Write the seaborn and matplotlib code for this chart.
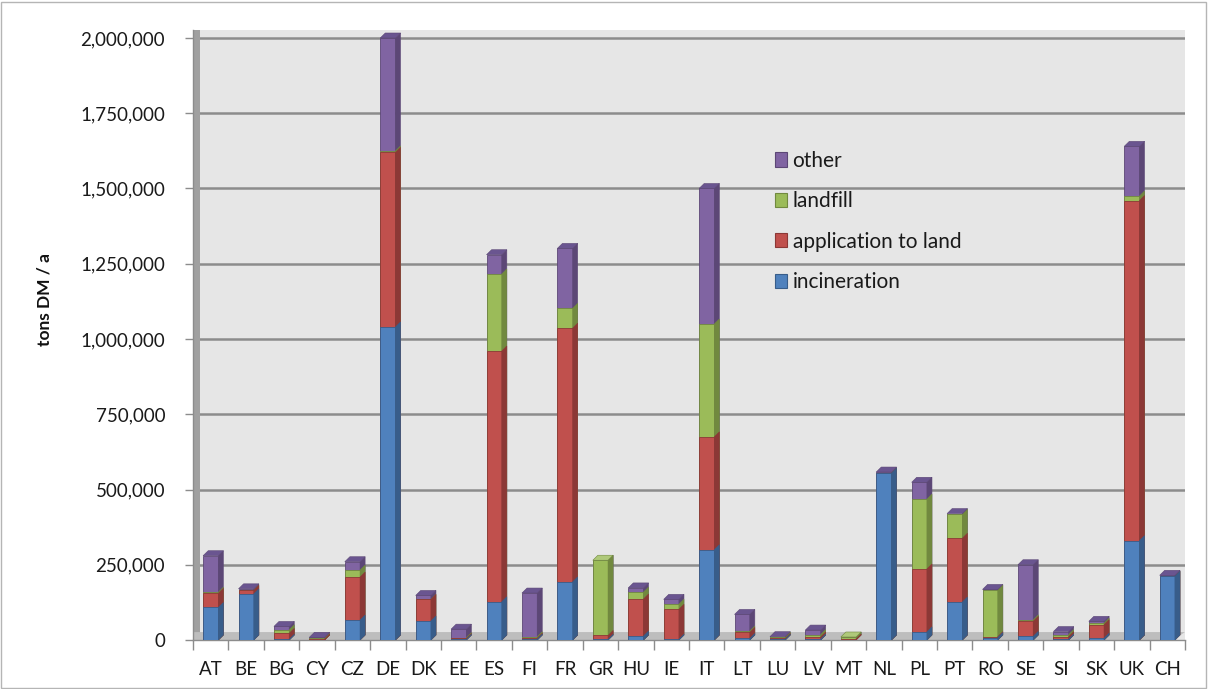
import matplotlib
matplotlib.use("Agg")
import numpy as np
import matplotlib.pyplot as plt
from matplotlib.patches import Polygon, Rectangle, Patch
from matplotlib.ticker import FuncFormatter, FixedLocator
import seaborn as sns

# Sewage sludge disposal routes per country (tons dry matter per year)
countries = ["AT", "BE", "BG", "CY", "CZ", "DE", "DK", "EE", "ES", "FI", "FR", "GR",
             "HU", "IE", "IT", "LT", "LU", "LV", "MT", "NL", "PL", "PT", "RO", "SE",
             "SI", "SK", "UK", "CH"]
incineration = [108000, 153000, 2000, 0, 66000, 1040000, 63000, 2000, 127000, 3000,
                193000, 2000, 13000, 2000, 300000, 5000, 2000, 3000, 0, 555000,
                27000, 126000, 8000, 12000, 3000, 6000, 330000, 212000]
application_to_land = [47000, 12000, 20000, 3000, 143000, 580000, 72000, 3000, 833000, 3000,
                       843000, 13000, 123000, 100000, 375000, 20000, 3000, 7000, 3000, 0,
                       209000, 212000, 3000, 50000, 8000, 45000, 1130000, 0]
landfill = [4000, 0, 12000, 2000, 23000, 5000, 0, 3000, 256000, 5000,
            66000, 250000, 23000, 17000, 375000, 5000, 5000, 8000, 7000, 0,
            232000, 80000, 155000, 5000, 7000, 5000, 15000, 0]
other = [121000, 5000, 11000, 4000, 28000, 375000, 13000, 28000, 64000, 145000,
         199000, 0, 14000, 16000, 450000, 55000, 1000, 15000, 0, 3000,
         56000, 2000, 2000, 183000, 10000, 6000, 165000, 3000]

series_names = ["incineration", "application to land", "landfill", "other"]
front_colors = ["#4F81BD", "#C0504D", "#9BBB59", "#8064A2"]
side_colors = ["#385D8A", "#8C3836", "#71893F", "#5C4776"]
top_colors = ["#6F97C8", "#CD6F6C", "#AFC97A", "#6A5590"]

W, H = 1208, 689
fig = plt.figure(figsize=(W / 100, H / 100), dpi=100)
fig.patch.set_facecolor("white")

sns.set_style("white")
plt.rcParams["font.family"] = ["Lato", "DejaVu Sans"]

ax_left, ax_right, ax_bottom, ax_top = 193, 1185, 640, 30
ax = fig.add_axes([ax_left / W, 1 - ax_bottom / H,
                   (ax_right - ax_left) / W, (ax_bottom - ax_top) / H])
ax.set_facecolor("#E6E6E6")

ymax = 2_000_000 * (ax_bottom - ax_top) / (ax_bottom - 38)
ax.set_ylim(0, ymax)
ax.set_xlim(-0.5, 27.87)

px_per_x = (ax_right - ax_left) / (27.87 + 0.5)
dx = 5.0 / px_per_x
dy = 5.0 * ymax / (ax_bottom - ax_top)

# gridlines on the back wall
for v in range(250_000, 2_000_001, 250_000):
    ax.axhline(v, color="#8C8C8C", lw=1.8, zorder=1)

# left wall and floor of the box
ax.add_patch(Rectangle((0, 0), 0.007, 1, transform=ax.transAxes,
                       facecolor="#A0A0A0", edgecolor="none", zorder=1.5))
ax.add_patch(Polygon([(0, 0), (0.988, 0), (1.0, 0.013), (0, 0.013)],
                     closed=True, transform=ax.transAxes,
                     facecolor="#BDBDBD", edgecolor="none", zorder=1.5))

series = [incineration, application_to_land, landfill, other]
cums = np.cumsum(np.array(series, dtype=float), axis=0)

# draw stacked bars from the total downwards, each with its shaded side face
bar_width = 0.43
for k in range(len(series) - 1, -1, -1):
    n_before = len(ax.patches)
    sns.barplot(x=countries, y=cums[k], color=front_colors[k], saturation=1,
                width=bar_width, edgecolor=side_colors[k], linewidth=0.6,
                ax=ax, zorder=3)
    new = ax.patches[n_before:]
    for p in new:
        x0 = p.get_x()
        x1 = x0 + p.get_width()
        h = p.get_height()
        if h <= 0:
            continue
        side = Polygon([(x1, 0), (x1 + dx, dy), (x1 + dx, h + dy), (x1, h)],
                       closed=True, facecolor=side_colors[k],
                       edgecolor=side_colors[k], lw=0.4, zorder=3)
        ax.add_patch(side)
        p.set_zorder(3)

# top caps take the colour of the uppermost non-empty segment
vals = np.array(series, dtype=float)
totals = cums[-1]
xs = np.arange(len(countries))
for i, tot in enumerate(totals):
    nz = np.nonzero(vals[:, i])[0]
    k = nz[-1] if len(nz) else 0
    x0 = xs[i] - bar_width / 2
    x1 = xs[i] + bar_width / 2
    cap = Polygon([(x0, tot), (x0 + dx, tot + dy), (x1 + dx, tot + dy), (x1, tot)],
                  closed=True, facecolor=top_colors[k], edgecolor=side_colors[k],
                  lw=0.4, zorder=4)
    ax.add_patch(cap)

# axes styling
for s in ["top", "right"]:
    ax.spines[s].set_visible(False)
ax.spines["left"].set_color("#8C8C8C")
ax.spines["bottom"].set_color("#8C8C8C")
ax.spines["left"].set_linewidth(1.0)
ax.spines["bottom"].set_linewidth(1.0)
ax.spines["bottom"].set_bounds(-0.5, 27.5)

ax.yaxis.set_major_locator(FixedLocator(range(0, 2_000_001, 250_000)))
ax.yaxis.set_major_formatter(FuncFormatter(lambda v, _: f"{int(v):,}"))
ax.tick_params(axis="y", length=6, width=1, color="#8C8C8C", pad=14,
               labelsize=13.5, labelcolor="#1a1a1a", left=True)

ax.set_xticks(xs)
ax.set_xticklabels(countries)
ax.set_xticks(np.arange(-0.5, 28, 1), minor=True)
ax.tick_params(axis="x", which="major", length=0, pad=15, labelsize=13.5,
               labelcolor="#1a1a1a")
ax.tick_params(axis="x", which="minor", length=7, width=1, color="#8C8C8C",
               bottom=True)
ax.set_xlabel("")
ax.set_ylabel("")

fig.text(45 / W, 1 - 300 / H, "tons DM / a", rotation=90, ha="center",
         va="center", fontsize=12.5, fontweight="bold", color="#111111")

handles = [Patch(facecolor=front_colors[k], edgecolor=side_colors[k], lw=0.8)
           for k in range(3, -1, -1)]
labels = [series_names[k] for k in range(3, -1, -1)]
ax.legend(handles, labels, loc="upper left", bbox_to_anchor=(0.587, 0.802),
          frameon=False, fontsize=15, labelspacing=0.98, handlelength=0.58,
          handleheight=0.68, handletextpad=0.25, borderpad=0, borderaxespad=0,
          labelcolor="#1a1a1a")

# thin outer frame around the whole chart
fig.patches.append(Rectangle((1 / W, 1 / H), 1 - 3 / W, 1 - 3 / H,
                             transform=fig.transFigure, fill=False,
                             edgecolor="#B5B5B5", lw=1.0))

fig.savefig("out.png", dpi=100)
